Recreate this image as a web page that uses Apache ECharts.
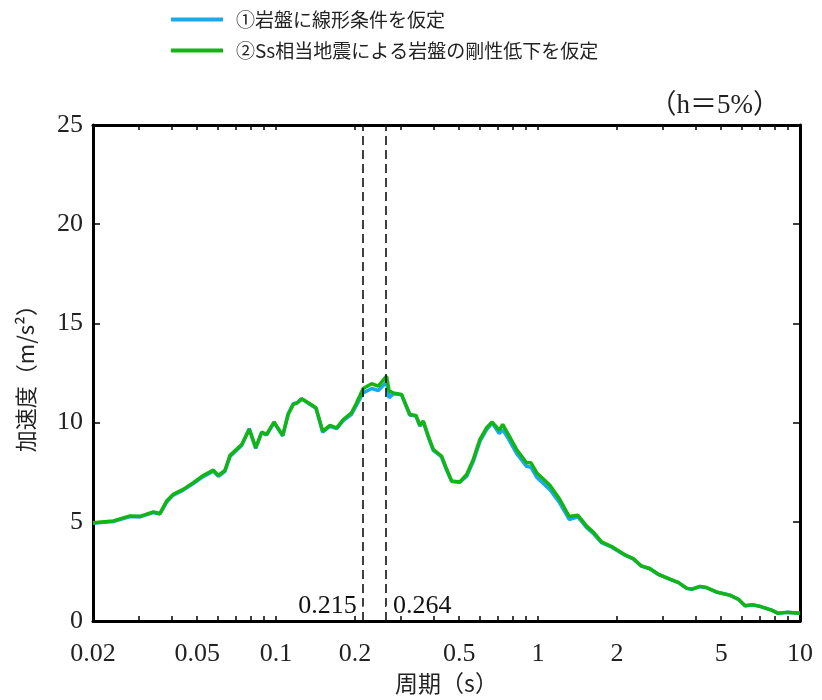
<!DOCTYPE html>
<html>
<head>
<meta charset="utf-8">
<script src="https://cdn.jsdelivr.net/npm/echarts@6/dist/echarts.min.js"></script>
<style>html,body{margin:0;padding:0;background:#fff}#c{width:822px;height:700px}</style>
</head>
<body>
<div id="c"></div>
<script>
const periods = [0.020,0.0239,0.0277,0.0302,0.034,0.036,0.0382,0.0405,0.0442,0.0483,0.0527,0.0576,0.0602,0.0638,0.0667,0.0739,0.079,0.0836,0.0881,0.092,0.0982,0.106,0.1112,0.1163,0.1205,0.1252,0.1327,0.142,0.1506,0.1606,0.1703,0.1805,0.194,0.203,0.215,0.2317,0.2455,0.264,0.270,0.28,0.3013,0.324,0.342,0.354,0.3646,0.381,0.398,0.428,0.448,0.468,0.503,0.534,0.566,0.600,0.636,0.668,0.711,0.733,0.770,0.828,0.904,0.94,0.988,1.11,1.21,1.315,1.42,1.53,1.624,1.748,1.91,2.146,2.31,2.48,2.67,2.88,3.19,3.43,3.69,3.86,4.15,4.40,4.80,5.40,5.81,6.17,6.63,7.13,7.79,8.26,8.89,10.0];
const linearBedrock = [4.93,5.02,5.27,5.25,5.47,5.40,6.00,6.35,6.60,6.93,7.28,7.55,7.30,7.55,8.30,8.85,9.70,8.70,9.50,9.38,10.00,9.33,10.45,10.95,11.0,11.2,10.98,10.72,9.52,9.82,9.70,10.10,10.42,10.9,11.5,11.72,11.62,12.05,11.25,11.45,11.4,10.38,10.33,9.83,10.05,9.28,8.60,8.28,7.60,7.04,7.00,7.30,8.05,9.05,9.65,9.98,9.45,9.65,9.20,8.45,7.80,7.75,7.25,6.62,5.95,5.12,5.25,4.72,4.42,3.95,3.72,3.32,3.13,2.77,2.64,2.35,2.10,1.94,1.65,1.60,1.74,1.68,1.46,1.30,1.10,0.77,0.82,0.72,0.55,0.39,0.44,0.40];
const degradedBedrock = [4.96,5.05,5.30,5.28,5.50,5.42,6.05,6.39,6.64,6.98,7.34,7.61,7.34,7.60,8.35,8.90,9.66,8.74,9.52,9.41,10.03,9.36,10.41,10.92,11.0,11.2,11.0,10.75,9.57,9.86,9.74,10.16,10.50,11.0,11.72,11.96,11.84,12.34,11.6,11.5,11.42,10.41,10.36,9.86,10.08,9.32,8.65,8.32,7.65,7.06,7.01,7.39,8.15,9.16,9.74,10.03,9.62,9.91,9.41,8.65,7.98,7.98,7.48,6.84,6.14,5.27,5.33,4.80,4.49,3.99,3.76,3.34,3.15,2.78,2.65,2.36,2.11,1.95,1.66,1.61,1.75,1.69,1.47,1.31,1.11,0.77,0.82,0.72,0.55,0.39,0.44,0.40];
const seriesNames = ['①岩盤に線形条件を仮定','②Ss相当地震による岩盤の剛性低下を仮定'];
const xTickLabels = [0.02,0.05,0.1,0.2,0.5,1,2,5,10];
const xMinorTicks = [0.02,0.03,0.04,0.05,0.06,0.07,0.08,0.09,0.1,0.2,0.3,0.4,0.5,0.6,0.7,0.8,0.9,1,2,3,4,5,6,7,8,9,10];
const yTicks = [0,5,10,15,20,25];
const markerPeriods = [0.215,0.264];
const markerLabels = ['0.215','0.264'];

const L = Math.log10;
const serif = "'Liberation Serif','DejaVu Serif',serif";
const jp = "'Noto Sans CJK JP','Noto Sans',sans-serif";
const xMin = L(0.02), xMax = L(10);

const chart = echarts.init(document.getElementById('c'));
const baseX = {
  type:'value', min:xMin, max:xMax,
  splitLine:{show:false},
  axisLine:{show:true, onZero:false, lineStyle:{color:'#000', width:3}},
  axisTick:{show:true, inside:true, length:5, lineStyle:{color:'#000', width:1.5}, customValues:xMinorTicks.map(L)}
};
const baseY = {
  type:'value', min:yTicks[0], max:yTicks[yTicks.length-1], interval:5,
  splitLine:{show:false},
  axisLine:{show:true, onZero:false, lineStyle:{color:'#000', width:3}},
  axisTick:{show:true, inside:true, length:7, lineStyle:{color:'#000', width:1.5}}
};
chart.setOption({
  animation:false,
  backgroundColor:'#fff',
  grid:{left:93, right:22, top:125, bottom:78},
  legend:{
    left:166, top:3, orient:'vertical', itemWidth:52, itemHeight:4, itemGap:8,
    icon:'rect',
    textStyle:{fontFamily:jp, fontSize:19, color:'#222', padding:[0,0,0,8], lineHeight:23},
    data:seriesNames
  },
  xAxis:[
    Object.assign({}, baseX, {
      position:'bottom',
      name:'周期（s）', nameLocation:'middle', nameGap:46,
      nameTextStyle:{fontFamily:jp, fontSize:23, color:'#222'},
      axisLabel:{show:true, margin:20, fontFamily:serif, fontSize:26, color:'#222',
        customValues:xTickLabels.map(L),
        formatter:v=>String(parseFloat(Math.pow(10,v).toPrecision(3)))}
    }),
    Object.assign({}, baseX, {position:'top', axisLabel:{show:false}})
  ],
  yAxis:[
    Object.assign({}, baseY, {
      position:'left',
      name:'加速度（m/s²）', nameLocation:'middle', nameGap:56, nameRotate:90,
      nameTextStyle:{fontFamily:jp, fontSize:22, color:'#222'},
      axisLabel:{show:true, margin:10, fontFamily:serif, fontSize:26, color:'#222'}
    }),
    Object.assign({}, baseY, {position:'right', axisLabel:{show:false}})
  ],
  graphic:[{
    type:'text', right:42, top:92,
    style:{text:'（h＝5%）', font:"27px 'Liberation Serif','Noto Sans CJK JP',serif", fill:'#222'}
  }],
  series:[
    {
      name:seriesNames[0], type:'line', symbol:'none', color:'#1aa9ea',
      lineStyle:{width:3.5, color:'#1aa9ea'}, z:3,
      data:periods.map((t,i)=>[L(t), linearBedrock[i]])
    },
    {
      name:seriesNames[1], type:'line', symbol:'none', color:'#14b414',
      lineStyle:{width:3.5, color:'#14b414'}, z:4,
      data:periods.map((t,i)=>[L(t), degradedBedrock[i]]),
      markLine:{
        silent:true, symbol:'none', animation:false,
        lineStyle:{type:[9,5], color:'#111', width:1.6},
        label:{show:false},
        data:markerPeriods.map(p=>({xAxis:L(p)}))
      }
    },
    {
      type:'scatter', symbolSize:1, z:5, silent:true,
      itemStyle:{color:'#fff', opacity:1},
      data:markerPeriods.map((p,i)=>({
        value:[L(p), 0.75],
        label:{show:true, formatter:markerLabels[i], position:i===0?'left':'right', distance:6,
          fontFamily:serif, fontSize:26, color:'#111', opacity:1, textBorderWidth:0}
      }))
    }
  ]
});
</script>
</body>
</html>
